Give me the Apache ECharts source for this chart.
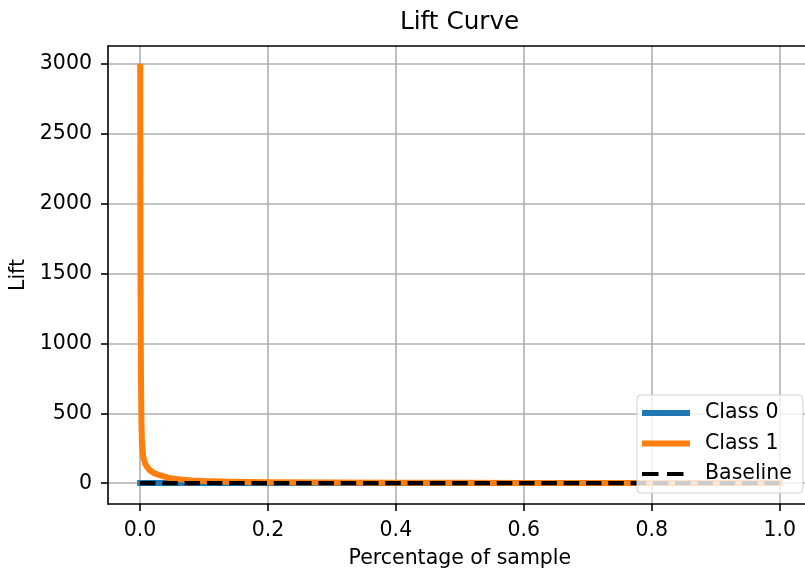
<!DOCTYPE html>
<html>
<head>
<meta charset="utf-8">
<script src="https://cdn.jsdelivr.net/npm/echarts@6/dist/echarts.min.js"></script>
<style>html,body{margin:0;padding:0;background:#fff;}#c{width:805px;height:571px;}</style>
</head>
<body>
<div id="c"></div>
<script>
// Percentage of sample (x) and lift (y)
const class1X = [0.0003, 0.0008, 0.0015, 0.0022, 0.003, 0.005, 0.008, 0.012, 0.016, 0.022, 0.031, 0.045, 0.06, 0.08, 0.1, 0.14, 0.2, 0.3, 0.4, 0.5, 0.6, 0.7, 0.8, 0.9, 1.0];
const class1Y = [2980, 1500, 800, 450, 300, 190, 140, 110, 90, 72, 57, 38, 29, 20, 15, 10, 7, 4.5, 3.3, 2.6, 2.1, 1.7, 1.4, 1.2, 1.0];
const class0X = [0.0003, 0.25, 0.5, 0.75, 1.0];
const class0Y = [1.0, 1.0, 1.0, 1.0, 1.0];
const baselineX = [0, 1];
const baselineY = [1, 1];
const xTicks = [0, 0.2, 0.4, 0.6, 0.8, 1.0];
const yTicks = [0, 500, 1000, 1500, 2000, 2500, 3000];
const seriesNames = ['Class 0', 'Class 1', 'Baseline'];

const zip = (xs, ys) => xs.map((x, i) => [x, ys[i]]);
const FONT = 'DejaVu Sans';
const chart = echarts.init(document.getElementById('c'), null, {renderer: 'canvas'});

chart.setOption({
  animation: false,
  backgroundColor: '#ffffff',
  title: {
    text: 'Lift Curve',
    left: 400, top: 10, padding: 0,
    textStyle: {fontFamily: FONT, fontSize: 24.7, fontWeight: 'normal', color: '#000'}
  },
  grid: {left: 108, top: 46, width: 703.7, height: 458, containLabel: false, outerBoundsMode: 'none'},
  xAxis: [{
    type: 'value', min: -0.05, max: 1.05, position: 'bottom',
    name: 'Percentage of sample', nameLocation: 'middle', nameGap: 44,
    nameTextStyle: {fontFamily: FONT, fontSize: 20.5, color: '#000'},
    axisLine: {show: true, onZero: false, lineStyle: {color: '#000', width: 1.6}},
    axisTick: {show: true, length: 7, lineStyle: {color: '#000', width: 1.6}, customValues: xTicks},
    axisLabel: {show: true, margin: 16, customValues: xTicks, fontFamily: FONT, fontSize: 20.5, color: '#000',
      formatter: v => v.toFixed(1)},
    splitLine: {show: true, lineStyle: {color: '#b0b0b0', width: 1.6}}
  }, {
    type: 'value', min: -0.05, max: 1.05, position: 'top',
    axisLine: {show: true, onZero: false, lineStyle: {color: '#000', width: 1.6}},
    axisTick: {show: false}, axisLabel: {show: false}, splitLine: {show: false}
  }],
  yAxis: {
    type: 'value', min: -149, max: 3129,
    name: 'Lift', nameLocation: 'middle', nameGap: 71,
    nameTextStyle: {fontFamily: FONT, fontSize: 20.5, color: '#000'},
    axisLine: {show: true, onZero: false, lineStyle: {color: '#000', width: 1.6}},
    axisTick: {show: true, length: 7, lineStyle: {color: '#000', width: 1.6}, customValues: yTicks},
    axisLabel: {show: true, margin: 16, customValues: yTicks, fontFamily: FONT, fontSize: 20.5, color: '#000',
      formatter: v => String(v)},
    splitLine: {show: true, lineStyle: {color: '#b0b0b0', width: 1.6}}
  },
  legend: {
    orient: 'vertical', left: 637, top: 395,
    padding: [7, 11, 8, 5],
    itemWidth: 48, itemHeight: 6, itemGap: 8.5,
    selectedMode: false,
    backgroundColor: 'rgba(255,255,255,0.8)', borderColor: '#d0d0d0', borderWidth: 1, borderRadius: 4,
    itemStyle: {borderWidth: 0},
    textStyle: {fontFamily: FONT, fontSize: 20.5, color: '#000', lineHeight: 22, padding: [0, 0, 0, 10]},
    data: [
      {name: seriesNames[0], icon: 'path://M0,0H48V6H0Z'},
      {name: seriesNames[1], icon: 'path://M0,0H48V6H0Z'},
      {name: seriesNames[2], icon: 'path://M0,0L0,0M0,0.9H16.5V5.1H0Z M25,0.9H41.5V5.1H25Z M48,6L48,6'}
    ]
  },
  series: [
    {
      name: seriesNames[0], type: 'line', data: zip(class0X, class0Y),
      showSymbol: false, symbol: 'none', color: '#1f77b4',
      lineStyle: {color: '#1f77b4', width: 6, cap: 'square', join: 'round'}
    },
    {
      name: seriesNames[1], type: 'line', data: zip(class1X, class1Y),
      showSymbol: false, symbol: 'none', color: '#ff7f0e',
      lineStyle: {color: '#ff7f0e', width: 6, cap: 'square', join: 'round'}
    },
    {
      name: seriesNames[2], type: 'line', data: zip(baselineX, baselineY),
      showSymbol: false, symbol: 'none', color: '#000000',
      lineStyle: {color: '#000000', width: 4.2, type: [15.5, 6.8], cap: 'butt'}
    }
  ]
});
</script>
</body>
</html>
